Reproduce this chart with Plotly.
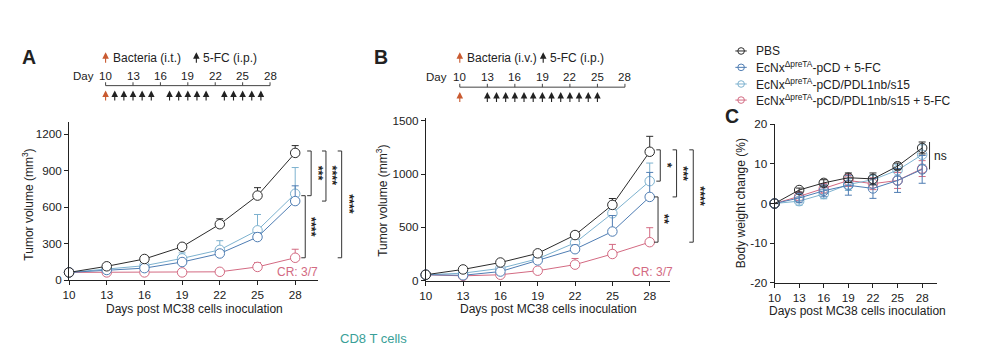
import plotly.graph_objects as go

W, H = 996, 346
FONT = "Liberation Sans, Arial, Helvetica, sans-serif"
INK = "#222222"

# ---------------------------------------------------------------- data
days = [10, 13, 16, 19, 22, 25, 28]
tick_days = [10, 13, 16, 19, 22, 25, 28]

group_names = [
    "PBS",
    "EcNx<sup>ΔpreTA</sup>-pCD + 5-FC",
    "EcNx<sup>ΔpreTA</sup>-pCD/PDL1nb/s15",
    "EcNx<sup>ΔpreTA</sup>-pCD/PDL1nb/s15 + 5-FC",
]
group_colors = ["#2b2b2b", "#4f7db3", "#7db2cf", "#d36a82"]

# A: tumour volume (mm3), bacteria given i.t.
vol_a_pbs = [65, 115, 175, 275, 460, 695, 1045]
vol_a_pcd = [65, 85, 100, 150, 220, 355, 650]
vol_a_pdl1 = [65, 95, 120, 180, 250, 410, 710]
vol_a_combo = [65, 65, 65, 65, 70, 110, 185]
err_a_pbs = [5, 8, 10, 15, 45, 65, 60]
err_a_pcd = [5, 8, 10, 20, 25, 35, 125]
err_a_pdl1 = [5, 10, 15, 45, 75, 130, 215]
err_a_combo = [5, 5, 5, 5, 10, 35, 70]

# B: tumour volume (mm3), bacteria given i.v.
vol_b_pbs = [55, 105, 170, 256, 428, 711, 1210]
vol_b_pcd = [55, 50, 85, 190, 295, 461, 786]
vol_b_pdl1 = [55, 70, 115, 205, 355, 632, 934]
vol_b_combo = [55, 45, 55, 93, 150, 250, 361]
err_b_pbs = [5, 8, 10, 15, 32, 60, 145]
err_b_pcd = [5, 8, 10, 15, 40, 150, 230]
err_b_pdl1 = [5, 8, 10, 20, 30, 40, 170]
err_b_combo = [5, 5, 5, 15, 58, 90, 136]

# C: body weight change (%)
bw_pbs = [0, 3.4, 5.2, 6.5, 6.2, 9.4, 14.0]
bw_pcd = [0, 1.4, 3.2, 4.6, 3.8, 5.8, 8.6]
bw_pdl1 = [0, 0.6, 2.4, 4.8, 6.0, 8.4, 12.3]
bw_combo = [0, 1.8, 3.8, 5.8, 5.0, 5.8, 8.8]
err_c_pbs = [0, 0.5, 0.8, 1.2, 1.5, 0.8, 1.5]
err_c_pcd = [0, 1.2, 1.5, 2.5, 2.5, 3.0, 3.5]
err_c_pdl1 = [0, 1.0, 1.2, 1.5, 1.2, 1.5, 2.5]
err_c_combo = [0, 1.0, 1.2, 1.5, 1.5, 2.0, 2.0]

cr_label = "CR: 3/7"

# treatment schedules (days)
bacteria_days_a = [10]
fc_days_a = [11, 12, 13, 14, 15, 17, 18, 19, 20, 21, 23, 24, 25, 26, 27]
bacteria_days_b = [10]
fc_days_b = [13, 14, 15, 16, 17, 18, 19, 20, 21, 22, 23, 24, 25]

# ---------------------------------------------------------------- layout geometry (pixels)
PANELS = {
    "A": dict(xpx=(62.5, 313.0), xr=(10, 29.8), ypx=(284.0, 119.3), yr=(0, 1300),
              xa="x", ya="y", yticks=[0, 300, 600, 900, 1200]),
    "B": dict(xpx=(421.7, 667.3), xr=(10, 29.6), ypx=(284.3, 115.0), yr=(0, 1530),
              xa="x2", ya="y2", yticks=[0, 500, 1000, 1500]),
    "C": dict(xpx=(773.0, 936.5), xr=(10, 29.8), ypx=(286.7, 121.7), yr=(-20, 20),
              xa="x3", ya="y3", yticks=[-20, -10, 0, 10, 20]),
}


def px_x(p, v):
    d = PANELS[p]
    return d["xpx"][0] + (v - d["xr"][0]) / (d["xr"][1] - d["xr"][0]) * (d["xpx"][1] - d["xpx"][0])


def px_y(p, v):
    d = PANELS[p]
    return d["ypx"][0] + (v - d["yr"][0]) / (d["yr"][1] - d["yr"][0]) * (d["ypx"][1] - d["ypx"][0])


def fx(px):
    return px / W


def fy(py):
    return 1 - py / H


fig = go.Figure()


def add_series(panel, y, err, color, symmetric):
    d = PANELS[panel]
    if symmetric:
        ey = dict(type="data", array=err, symmetric=True, color=color, thickness=1, width=3.5)
        mfill = "rgba(0,0,0,0)"
    else:
        ey = dict(type="data", array=err, arrayminus=[0] * len(err), symmetric=False,
                  color=color, thickness=1, width=3.5)
        mfill = "white"
    fig.add_trace(go.Scatter(
        x=days, y=y, mode="lines+markers", xaxis=d["xa"], yaxis=d["ya"],
        line=dict(color=color, width=1),
        marker=dict(symbol="circle", size=9.5, color=mfill, line=dict(color=color, width=1)),
        error_y=ey, showlegend=False, hoverinfo="skip", cliponaxis=False,
    ))


PBS, PCD, PDL1, COMBO = group_colors

for y, e, c in [(vol_a_combo, err_a_combo, COMBO), (vol_a_pdl1, err_a_pdl1, PDL1),
                (vol_a_pcd, err_a_pcd, PCD), (vol_a_pbs, err_a_pbs, PBS)]:
    add_series("A", y, e, c, False)
for y, e, c in [(vol_b_combo, err_b_combo, COMBO), (vol_b_pdl1, err_b_pdl1, PDL1),
                (vol_b_pcd, err_b_pcd, PCD), (vol_b_pbs, err_b_pbs, PBS)]:
    add_series("B", y, e, c, False)
for y, e, c in [(bw_combo, err_c_combo, COMBO), (bw_pdl1, err_c_pdl1, PDL1),
                (bw_pcd, err_c_pcd, PCD), (bw_pbs, err_c_pbs, PBS)]:
    add_series("C", y, e, c, True)

# ---------------------------------------------------------------- axes
tickfont = dict(family=FONT, size=11.7, color=INK)
axis_style = dict(showgrid=False, zeroline=False, showline=True, linecolor=INK, linewidth=1,
                  ticks="outside", ticklen=4, tickwidth=1, tickcolor=INK, tickfont=tickfont,
                  fixedrange=True)

layout_axes = {}
for i, (name, d) in enumerate(PANELS.items()):
    sfx = "" if i == 0 else str(i + 1)
    layout_axes["xaxis" + sfx] = dict(
        axis_style, domain=[fx(d["xpx"][0]), fx(d["xpx"][1])], range=list(d["xr"]),
        tickvals=tick_days, ticktext=[str(t) for t in tick_days], anchor=d["ya"])
    layout_axes["yaxis" + sfx] = dict(
        axis_style, domain=[fy(d["ypx"][0]), fy(d["ypx"][1])], range=list(d["yr"]),
        tickvals=d["yticks"], ticktext=[str(t) for t in d["yticks"]], anchor=d["xa"])

shapes = []
annotations = []


def text(x, y, s, size=12, color=INK, xanchor="center", yanchor="middle", angle=0, bold=False):
    if bold:
        s = "<b>" + s + "</b>"
    annotations.append(dict(x=fx(x), y=fy(y), xref="paper", yref="paper", text=s, showarrow=False,
                            xanchor=xanchor, yanchor=yanchor, textangle=angle, borderpad=0,
                            font=dict(family=FONT, size=size, color=color)))


def seg(x0, y0, x1, y1, color="#333333", width=1):
    shapes.append(dict(type="line", xref="paper", yref="paper", x0=fx(x0), y0=fy(y0),
                       x1=fx(x1), y1=fy(y1), line=dict(color=color, width=width)))


# axis titles
x_title = "Days post MC38 cells inoculation"
text(189, 313.5, x_title)
text(545, 313.5, x_title)
text(857, 315.5, x_title)
text(21.5, 205, "Tumor volume (mm<sup>3</sup>)", angle=-90)
text(378, 201, "Tumor volume (mm<sup>3</sup>)", angle=-90)
text(740, 204, "Body weight change (%)", angle=-90)

# complete-response labels
text(314, 275.5, cr_label, color=COMBO, xanchor="right")
text(672, 275.5, cr_label, color=COMBO, xanchor="right")


# significance brackets at day 28
def bracket(panel, xday, v_top, v_bot, label, top_shift=0.0, bot_shift=0.0, caps=True,
            angle=90, dx=6.5, size=12.5):
    x = px_x(panel, xday)
    yt = px_y(panel, v_top) + top_shift
    yb = px_y(panel, v_bot) + bot_shift
    seg(x, yt, x, yb)
    if caps:
        seg(x - 4, yt, x, yt)
        seg(x - 4, yb, x, yb)
    if angle:
        text(x + dx, (yt + yb) / 2, label, size=size, angle=angle, bold=True)
    else:
        text(x + 3, (yt + yb) / 2, label, size=12, xanchor="left")


i28 = days.index(28)
bracket("A", 29.27, vol_a_pbs[i28], vol_a_pdl1[i28], "***", -2, 2)
bracket("A", 30.45, vol_a_pbs[i28], vol_a_pcd[i28], "****", -2, 0)
bracket("A", 31.7, vol_a_pbs[i28], vol_a_combo[i28], "****", -2, 0)
bracket("A", 28.8, vol_a_pdl1[i28], vol_a_combo[i28], "****", 2, 0)

bracket("B", 28.85, vol_b_pbs[i28], vol_b_pdl1[i28], "*", -2, 0)
bracket("B", 30.16, vol_b_pbs[i28], vol_b_pcd[i28], "***", -2, 0)
bracket("B", 31.5, vol_b_pbs[i28], vol_b_combo[i28], "****", -2, 0)
bracket("B", 28.67, vol_b_pcd[i28], vol_b_combo[i28], "**", 0, 0)

bracket("C", 28.9, bw_pbs[i28] + err_c_pbs[i28], bw_pcd[i28], "ns", 0, 0, caps=False, angle=0)

# panel letters
text(22, 52, "A", size=19.5, bold=True)
text(376.5, 52, "B", size=19.5, bold=True)
text(730, 113, "C", size=19.5, bold=True)


# ---------------------------------------------------------------- treatment timelines
def arrow(x, y_head, length, color):
    annotations.append(dict(x=fx(x), y=fy(y_head), xref="paper", yref="paper", text="",
                            showarrow=True, ax=0, ay=length, arrowhead=2, arrowsize=1.2,
                            arrowwidth=1.1, arrowcolor=color, standoff=0, startstandoff=0))


ORANGE = "#c95a30"


def timeline(x10, per_day, line_y, bact_days, fc_days, bact_label, legend_x, day_x):
    def dx(d):
        return x10 + (d - 10) * per_day
    seg(dx(10), line_y, dx(28), line_y, color="#444444")
    for t in tick_days:
        seg(dx(t), line_y - 3.5, dx(t), line_y, color="#444444")
        text(dx(t), line_y - 10.5, str(t), size=11.5)
    text(day_x, line_y - 10.5, "Day", size=11.5, xanchor="right")
    for d in bact_days:
        arrow(dx(d), line_y + 5, 11.5, ORANGE)
    for d in fc_days:
        arrow(dx(d), line_y + 5, 11.5, INK)
    # schedule key
    arrow(dx(10), 47, 12, ORANGE)
    text(dx(10) + 6, 53, bact_label, xanchor="left")
    arrow(legend_x, 47, 12, INK)
    text(legend_x + 5.5, 53, "5-FC (i.p.)", xanchor="left")


timeline(99.3, 9.2, 81.7, bacteria_days_a, fc_days_a, "Bacteria (i.t.)", 190.7, 89)
timeline(456.0, 9.24, 83.3, bacteria_days_b, fc_days_b, "Bacteria (i.v.)", 540.0, 444)

# ---------------------------------------------------------------- group key
legend_rows = [45.7, 62.7, 80.0, 96.7]
for name, color, ry in zip(group_names, group_colors, legend_rows):
    seg(733.5, ry, 745, ry, color=color)
    shapes.append(dict(type="circle", xref="paper", yref="paper", xsizemode="pixel",
                       ysizemode="pixel", xanchor=fx(739.3), yanchor=fy(ry),
                       x0=-3.3, x1=3.3, y0=-3.3, y1=3.3, line=dict(color=color, width=1),
                       fillcolor="rgba(0,0,0,0)"))
    text(753, ry, name, xanchor="left")

# partial caption of the next panel row
text(369, 335.5, "CD8 T cells", size=13, color="#3a9f98", yanchor="top")

fig.update_layout(
    width=W, height=H, margin=dict(l=0, r=0, t=0, b=0),
    paper_bgcolor="white", plot_bgcolor="white",
    font=dict(family=FONT, size=12, color=INK),
    showlegend=False, shapes=shapes, annotations=annotations,
    **layout_axes,
)

fig.write_html("out.html")
